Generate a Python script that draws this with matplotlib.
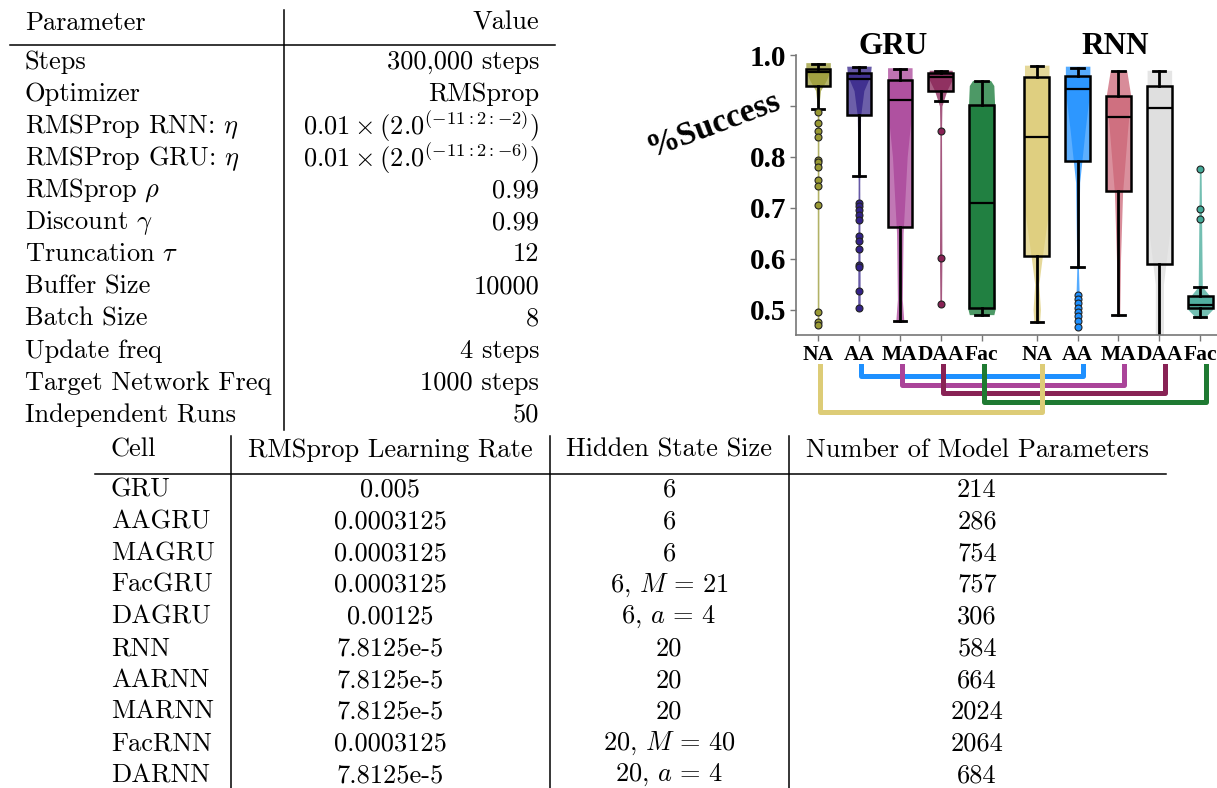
import matplotlib
matplotlib.use("Agg")
import matplotlib.pyplot as plt
from matplotlib.lines import Line2D
from matplotlib.transforms import blended_transform_factory

plt.rcParams['mathtext.fontset'] = 'cm'
plt.rcParams['axes.formatter.use_mathtext'] = True

# ---- table data ----
param_names = ["Steps", "Optimizer", r"RMSProp RNN: $\eta$", r"RMSProp GRU: $\eta$",
               r"RMSprop $\rho$", r"Discount $\gamma$", r"Truncation $\tau$", "Buffer Size",
               "Batch Size", "Update freq", "Target Network Freq", "Independent Runs"]
param_values = ["300,000 steps", "RMSprop", r"$0.01\times(2.0^{(-11{:}2{:}{-}2)})$",
                r"$0.01\times(2.0^{(-11{:}2{:}{-}6)})$", "0.99", "0.99", "12", "10000", "8",
                "4 steps", "1000 steps", "50"]

cell_header = ["Cell", "RMSprop Learning Rate", "Hidden State Size", "Number of Model Parameters"]
cells = ["GRU", "AAGRU", "MAGRU", "FacGRU", "DAGRU", "RNN", "AARNN", "MARNN", "FacRNN", "DARNN"]
learning_rates = ["0.005", "0.0003125", "0.0003125", "0.0003125", "0.00125",
                  "7.8125e-5", "7.8125e-5", "7.8125e-5", "0.0003125", "7.8125e-5"]
hidden_sizes = ["6", "6", "6", r"6, $M\,=\,21$", r"6, $a\,=\,4$", "20", "20", "20",
                r"20, $M\,=\,40$", r"20, $a\,=\,4$"]
n_params = ["214", "286", "754", "757", "306", "584", "664", "2024", "2064", "684"]

# ---- box plot data (%Success) ----
groups = ["GRU", "RNN"]
arch_labels = ["NA", "AA", "MA", "DAA", "Fac"]
colors = ["#999933", "#332288", "#AA4499", "#882255", "#117733",
          "#DDCC77", "#1E90FF", "#CC6677", "#DDDDDD", "#44AA99"]
whislo = [0.894, 0.763, 0.477, 0.910, 0.490, 0.475, 0.583, 0.489, 0.40, 0.485]
q1 = [0.939, 0.882, 0.663, 0.929, 0.503, 0.605, 0.791, 0.733, 0.590, 0.503]
med = [0.966, 0.952, 0.912, 0.956, 0.710, 0.839, 0.934, 0.878, 0.895, 0.509]
q3 = [0.972, 0.965, 0.950, 0.965, 0.901, 0.956, 0.958, 0.919, 0.939, 0.526]
whishi = [0.982, 0.976, 0.973, 0.969, 0.949, 0.979, 0.975, 0.969, 0.969, 0.545]
fliers = [
    [0.888, 0.866, 0.850, 0.838, 0.794, 0.789, 0.780, 0.754, 0.742, 0.705, 0.495, 0.475, 0.469],
    [0.709, 0.703, 0.696, 0.686, 0.675, 0.644, 0.634, 0.619, 0.588, 0.584, 0.536, 0.504],
    [],
    [0.851, 0.601, 0.510],
    [],
    [],
    [0.528, 0.520, 0.512, 0.503, 0.495, 0.487, 0.478, 0.465],
    [],
    [],
    [0.776, 0.698, 0.677],
]
# violin outlines: (value, half width)
violin_y = [
    [0.469, 0.90, 0.93, 0.95, 0.97, 0.985],
    [0.50, 0.75, 0.88, 0.93, 0.96, 0.978],
    [0.475, 0.52, 0.65, 0.80, 0.88, 0.95, 0.975],
    [0.51, 0.60, 0.85, 0.90, 0.93, 0.955, 0.97],
    [0.49, 0.50, 0.70, 0.90, 0.94, 0.95],
    [0.475, 0.50, 0.55, 0.60, 0.70, 0.90, 0.98],
    [0.465, 0.50, 0.58, 0.75, 0.85, 0.93, 0.978],
    [0.489, 0.60, 0.73, 0.85, 0.92, 0.97],
    [0.44, 0.55, 0.65, 0.80, 0.97],
    [0.485, 0.50, 0.52, 0.545, 0.78],
]
violin_w = [
    [0.02, 0.02, 0.06, 0.2, 0.3, 0.3],
    [0.03, 0.02, 0.04, 0.12, 0.28, 0.3],
    [0.1, 0.06, 0.08, 0.18, 0.28, 0.3, 0.3],
    [0.02, 0.03, 0.02, 0.03, 0.15, 0.3, 0.28],
    [0.3, 0.33, 0.3, 0.32, 0.3, 0.22],
    [0.07, 0.09, 0.05, 0.13, 0.3, 0.3, 0.3],
    [0.04, 0.05, 0.02, 0.05, 0.18, 0.3, 0.3],
    [0.03, 0.05, 0.1, 0.22, 0.3, 0.2],
    [0.1, 0.1, 0.25, 0.3, 0.3],
    [0.12, 0.3, 0.3, 0.05, 0.02],
]

W, H = 1217, 788
fig = plt.figure(figsize=(W / 100, H / 100), dpi=100)
bg = fig.add_axes([0, 0, 1, 1])
bg.set_xlim(0, W)
bg.set_ylim(H, 0)
bg.axis('off')

tfont = dict(family='cmr10', fontsize=19, color='black')

# ---- top table ----
bg.text(25, 23, "Parameter", ha='left', va='center', **tfont)
bg.text(539, 23, "Value", ha='right', va='center', **tfont)
bg.plot([10, 555], [45, 45], color='black', lw=1.1)
bg.plot([284, 284], [10, 430], color='black', lw=1.1)
for i, (n, v) in enumerate(zip(param_names, param_values)):
    y = 62 + i * 32.1
    bg.text(25, y, n, ha='left', va='center', **tfont)
    bg.text(539, y, v, ha='right', va='center', **tfont)

# ---- bottom table ----
bg.text(111, 450, cell_header[0], ha='left', va='center', **tfont)
bg.text(390, 450, cell_header[1], ha='center', va='center', **tfont)
bg.text(669, 450, cell_header[2], ha='center', va='center', **tfont)
bg.text(977, 450, cell_header[3], ha='center', va='center', **tfont)
bg.plot([95, 1166], [474, 474], color='black', lw=1.1)
for xv in [231, 550, 789]:
    bg.plot([xv, xv], [436, 788], color='black', lw=1.1)
for i in range(len(cells)):
    y = 490 + i * 31.7
    bg.text(111, y, cells[i], ha='left', va='center', **tfont)
    bg.text(390, y, learning_rates[i], ha='center', va='center', **tfont)
    bg.text(669, y, hidden_sizes[i], ha='center', va='center', **tfont)
    bg.text(977, y, n_params[i], ha='center', va='center', **tfont)

# ---- box / violin chart ----
ax = fig.add_axes([796 / W, 1 - 335 / H, 1 - 796 / W, 280 / H])
positions = [0, 1, 2, 3, 4, 5.35, 6.35, 7.35, 8.35, 9.35]

for p, c, vy, vw in zip(positions, colors, violin_y, violin_w):
    ax.fill_betweenx(vy, [p - w for w in vw], [p + w for w in vw],
                     color=c, alpha=0.75, lw=0, zorder=1)

stats = []
for i in range(len(positions)):
    stats.append(dict(whislo=whislo[i], q1=q1[i], med=med[i], q3=q3[i],
                      whishi=whishi[i], fliers=fliers[i]))
bp = ax.bxp(stats, positions=positions, widths=0.6, capwidths=0.3,
            patch_artist=True, manage_ticks=False,
            boxprops=dict(edgecolor='black', linewidth=1.8),
            medianprops=dict(color='black', linewidth=1.6),
            whiskerprops=dict(color='black', linewidth=2),
            capprops=dict(color='black', linewidth=2))
for patch, c in zip(bp['boxes'], colors):
    patch.set_facecolor(matplotlib.colors.to_rgba(c, 0.72))
    patch.set_zorder(2)
for fl, c in zip(bp['fliers'], colors):
    fl.set(marker='o', markersize=5, markerfacecolor=c, markeredgecolor='#222222',
           markeredgewidth=0.8, zorder=3)

ax.set_ylim(0.45, 1.0)
ax.set_xlim(-0.54, 9.76)
ax.set_yticks([0.5, 0.6, 0.7, 0.8, 0.9, 1.0])
ax.set_yticklabels(["0.5", "0.6", "0.7", "0.8", "", "1.0"])
ax.set_xticks(positions)
ax.set_xticklabels(arch_labels * 2)
for lab in ax.get_yticklabels():
    lab.set(family='Liberation Serif', weight='bold', fontsize=21)
for lab in ax.get_xticklabels():
    lab.set(family='Liberation Serif', weight='bold', fontsize=15.5)
ax.tick_params(axis='both', color='#777777', length=4, width=1, pad=3)
for s in ['top', 'right']:
    ax.spines[s].set_visible(False)
for s in ['left', 'bottom']:
    ax.spines[s].set_color('#777777')
    ax.spines[s].set_linewidth(1.2)

bg.text(714, 124, "%Success", rotation=20.5, ha='center', va='center',
        family='Liberation Serif', weight='bold', fontsize=24)
bg.text(893, 46, groups[0], ha='center', va='center', family='Liberation Serif',
        weight='bold', fontsize=22.5)
bg.text(1115, 46, groups[1], ha='center', va='center', family='Liberation Serif',
        weight='bold', fontsize=22.5)

# ---- brackets linking GRU and RNN variants ----
tr = blended_transform_factory(ax.transData, bg.transData)
bracket_y = [412, 376, 385, 393, 402]
bracket_col = ["#DDCC77", "#1E90FF", "#AA4499", "#882255", "#1F7A32"]
for k in [1, 2, 3, 4, 0]:
    x0 = positions[k] + 0.05
    x1 = positions[k + 5] + 0.13
    ax.add_line(Line2D([x0, x0, x1, x1], [366, bracket_y[k], bracket_y[k], 366],
                       transform=tr, color=bracket_col[k], lw=3.6,
                       solid_joinstyle='round', clip_on=False, zorder=5))

fig.savefig("out.png", dpi=100)
